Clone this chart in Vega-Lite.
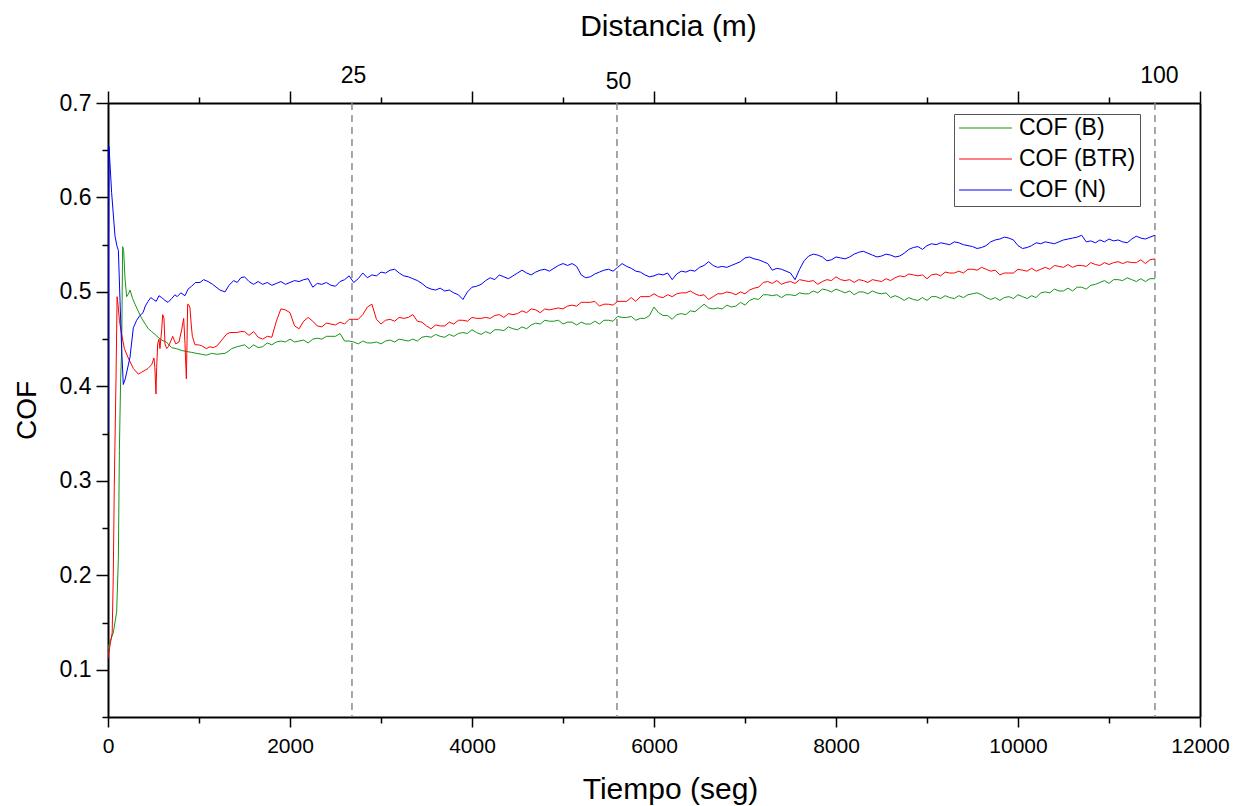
{
"$schema": "https://vega.github.io/schema/vega-lite/v6.json",
"width": 1092, "height": 614,
"autosize": "none",
"padding": {"left": 108, "top": 103, "right": 45, "bottom": 89},
"background": "white",
"config": {
  "view": {"stroke": null},
  "font": "Liberation Sans",
  "axis": {"domain": true, "domainColor": "black", "domainWidth": 2, "grid": false, "tickColor": "black", "tickWidth": 1.5, "labelColor": "black", "labelFont": "Liberation Sans", "titleFont": "Liberation Sans", "titleFontWeight": "normal", "titleColor": "black", "labelOverlap": false, "labelFlush": false, "labelBound": false},
  "legend": {"labelFont": "Liberation Sans"}
},
"datasets": {
"B": [{"t":0,"c":0.12},{"t":11,"c":0.127},{"t":58,"c":0.139},{"t":95,"c":0.161},{"t":114,"c":0.218},{"t":125,"c":0.332},{"t":139,"c":0.408},{"t":150,"c":0.438},{"t":161,"c":0.548},{"t":172,"c":0.544},{"t":187,"c":0.514},{"t":205,"c":0.495},{"t":225,"c":0.498},{"t":242,"c":0.502},{"t":270,"c":0.493},{"t":297,"c":0.487},{"t":330,"c":0.48},{"t":370,"c":0.472},{"t":410,"c":0.466},{"t":443,"c":0.461},{"t":480,"c":0.458},{"t":516,"c":0.455},{"t":550,"c":0.452},{"t":590,"c":0.449},{"t":640,"c":0.447},{"t":700,"c":0.441},{"t":750,"c":0.44},{"t":810,"c":0.438},{"t":860,"c":0.437},{"t":919,"c":0.436},{"t":970,"c":0.435},{"t":1029,"c":0.434},{"t":1080,"c":0.433},{"t":1139,"c":0.435},{"t":1200,"c":0.434},{"t":1286,"c":0.435},{"t":1320,"c":0.437},{"t":1359,"c":0.44},{"t":1420,"c":0.442},{"t":1460,"c":0.443},
{"t":1500,"c":0.444},{"t":1550,"c":0.440},{"t":1600,"c":0.444},{"t":1650,"c":0.441},{"t":1700,"c":0.442},{"t":1750,"c":0.446},{"t":1800,"c":0.444},{"t":1850,"c":0.447},{"t":1900,"c":0.448},{"t":1950,"c":0.447},{"t":2000,"c":0.450},{"t":2050,"c":0.447},{"t":2100,"c":0.448},{"t":2150,"c":0.449},{"t":2200,"c":0.446},{"t":2250,"c":0.450},{"t":2300,"c":0.451},{"t":2350,"c":0.450},{"t":2400,"c":0.453},{"t":2450,"c":0.453},{"t":2500,"c":0.453},{"t":2550,"c":0.456},{"t":2600,"c":0.448},{"t":2650,"c":0.448},{"t":2700,"c":0.447},{"t":2750,"c":0.445},{"t":2800,"c":0.448},{"t":2850,"c":0.446},{"t":2900,"c":0.446},{"t":2950,"c":0.447},{"t":3000,"c":0.445},{"t":3050,"c":0.448},{"t":3100,"c":0.449},{"t":3150,"c":0.447},{"t":3200,"c":0.450},{"t":3250,"c":0.449},{"t":3300,"c":0.448},{"t":3350,"c":0.450},{"t":3400,"c":0.448},{"t":3450,"c":0.452},{"t":3500,"c":0.453},{"t":3550,"c":0.452},{"t":3600,"c":0.455},{"t":3650,"c":0.453},{"t":3700,"c":0.452},{"t":3750,"c":0.455},{"t":3800,"c":0.453},{"t":3850,"c":0.456},{"t":3900,"c":0.457},{"t":3950,"c":0.456},{"t":4000,"c":0.460},{"t":4050,"c":0.457},{"t":4100,"c":0.455},{"t":4150,"c":0.458},{"t":4200,"c":0.456},{"t":4250,"c":0.460},{"t":4300,"c":0.460},{"t":4350,"c":0.459},{"t":4400,"c":0.463},{"t":4450,"c":0.461},{"t":4500,"c":0.460},{"t":4550,"c":0.463},{"t":4600,"c":0.461},{"t":4650,"c":0.465},{"t":4700,"c":0.467},{"t":4750,"c":0.466},{"t":4800,"c":0.470},{"t":4850,"c":0.469},{"t":4900,"c":0.469},{"t":4950,"c":0.470},{"t":5000,"c":0.466},{"t":5050,"c":0.468},{"t":5100,"c":0.468},{"t":5150,"c":0.465},{"t":5200,"c":0.468},{"t":5250,"c":0.466},{"t":5300,"c":0.466},{"t":5350,"c":0.469},{"t":5400,"c":0.466},{"t":5450,"c":0.470},{"t":5500,"c":0.470},{"t":5550,"c":0.469},{"t":5600,"c":0.474},{"t":5650,"c":0.473},{"t":5700,"c":0.473},{"t":5750,"c":0.474},{"t":5800,"c":0.470},{"t":5850,"c":0.472},{"t":5900,"c":0.472},{"t":5950,"c":0.475},{"t":6000,"c":0.484},{"t":6050,"c":0.478},{"t":6100,"c":0.475},{"t":6150,"c":0.475},{"t":6200,"c":0.471},{"t":6250,"c":0.476},{"t":6300,"c":0.477},{"t":6350,"c":0.476},{"t":6400,"c":0.480},{"t":6450,"c":0.479},{"t":6500,"c":0.483},{"t":6550,"c":0.487},{"t":6600,"c":0.483},{"t":6650,"c":0.482},{"t":6700,"c":0.483},{"t":6750,"c":0.482},{"t":6800,"c":0.486},{"t":6850,"c":0.484},{"t":6900,"c":0.485},{"t":6950,"c":0.489},{"t":7000,"c":0.486},{"t":7050,"c":0.491},{"t":7100,"c":0.493},{"t":7150,"c":0.492},{"t":7200,"c":0.497},{"t":7250,"c":0.497},{"t":7300,"c":0.496},{"t":7350,"c":0.497},{"t":7400,"c":0.494},{"t":7450,"c":0.497},{"t":7500,"c":0.497},{"t":7550,"c":0.496},{"t":7600,"c":0.499},{"t":7650,"c":0.498},{"t":7700,"c":0.498},{"t":7750,"c":0.501},{"t":7800,"c":0.499},{"t":7850,"c":0.503},{"t":7900,"c":0.502},{"t":7950,"c":0.500},{"t":8000,"c":0.503},{"t":8050,"c":0.501},{"t":8100,"c":0.499},{"t":8150,"c":0.501},{"t":8200,"c":0.497},{"t":8250,"c":0.500},{"t":8300,"c":0.500},{"t":8350,"c":0.498},{"t":8400,"c":0.501},{"t":8450,"c":0.499},{"t":8500,"c":0.498},{"t":8550,"c":0.499},{"t":8600,"c":0.494},{"t":8650,"c":0.496},{"t":8700,"c":0.494},{"t":8750,"c":0.491},{"t":8800,"c":0.494},{"t":8850,"c":0.492},{"t":8900,"c":0.491},{"t":8950,"c":0.494},{"t":9000,"c":0.491},{"t":9050,"c":0.495},{"t":9100,"c":0.495},{"t":9150,"c":0.493},{"t":9200,"c":0.496},{"t":9250,"c":0.494},{"t":9300,"c":0.493},{"t":9350,"c":0.496},{"t":9400,"c":0.494},{"t":9450,"c":0.497},{"t":9500,"c":0.498},{"t":9550,"c":0.499},{"t":9600,"c":0.497},{"t":9650,"c":0.494},{"t":9700,"c":0.492},{"t":9750,"c":0.494},{"t":9800,"c":0.491},{"t":9850,"c":0.494},{"t":9900,"c":0.495},{"t":9950,"c":0.493},{"t":10000,"c":0.497},{"t":10050,"c":0.495},{"t":10100,"c":0.493},{"t":10150,"c":0.496},{"t":10200,"c":0.494},{"t":10250,"c":0.499},{"t":10300,"c":0.500},{"t":10350,"c":0.499},{"t":10400,"c":0.503},{"t":10450,"c":0.501},{"t":10500,"c":0.501},{"t":10550,"c":0.504},{"t":10600,"c":0.501},{"t":10650,"c":0.505},{"t":10700,"c":0.505},{"t":10750,"c":0.503},{"t":10800,"c":0.507},{"t":10850,"c":0.508},{"t":10900,"c":0.510},{"t":10950,"c":0.512},{"t":11000,"c":0.509},{"t":11050,"c":0.513},{"t":11100,"c":0.513},{"t":11150,"c":0.512},{"t":11200,"c":0.515},{"t":11250,"c":0.513},{"t":11300,"c":0.511},{"t":11350,"c":0.514},{"t":11400,"c":0.511},{"t":11450,"c":0.514},{"t":11505,"c":0.514}],
"BTR": [{"t":0,"c":0.112},{"t":4,"c":0.116},{"t":30,"c":0.13},{"t":46,"c":0.139},{"t":58,"c":0.199},{"t":69,"c":0.294},{"t":88,"c":0.408},{"t":100,"c":0.495},{"t":110,"c":0.487},{"t":125,"c":0.47},{"t":150,"c":0.455},{"t":180,"c":0.44},{"t":223,"c":0.43},{"t":278,"c":0.419},{"t":333,"c":0.413},{"t":370,"c":0.415},{"t":407,"c":0.417},{"t":440,"c":0.419},{"t":480,"c":0.423},{"t":505,"c":0.43},{"t":515,"c":0.42},{"t":527,"c":0.392},{"t":535,"c":0.42},{"t":546,"c":0.445},{"t":560,"c":0.45},{"t":571,"c":0.44},{"t":590,"c":0.46},{"t":601,"c":0.476},{"t":615,"c":0.472},{"t":626,"c":0.445},{"t":645,"c":0.44},{"t":663,"c":0.442},{"t":690,"c":0.448},{"t":711,"c":0.453},{"t":744,"c":0.445},{"t":780,"c":0.447},{"t":810,"c":0.46},{"t":832,"c":0.472},{"t":846,"c":0.445},{"t":861,"c":0.408},{"t":869,"c":0.45},{"t":875,"c":0.487},{"t":890,"c":0.486},{"t":901,"c":0.483},{"t":915,"c":0.465},{"t":927,"c":0.453},{"t":956,"c":0.444},{"t":992,"c":0.444},{"t":1030,"c":0.443},{"t":1080,"c":0.44},{"t":1120,"c":0.442},{"t":1157,"c":0.441},{"t":1200,"c":0.443},{"t":1250,"c":0.449},{"t":1300,"c":0.455},{"t":1340,"c":0.457},{"t":1414,"c":0.457},{"t":1460,"c":0.458},
{"t":1500,"c":0.458},{"t":1550,"c":0.454},{"t":1600,"c":0.458},{"t":1650,"c":0.452},{"t":1700,"c":0.450},{"t":1750,"c":0.453},{"t":1800,"c":0.452},{"t":1850,"c":0.469},{"t":1900,"c":0.482},{"t":1950,"c":0.481},{"t":2000,"c":0.478},{"t":2050,"c":0.464},{"t":2100,"c":0.461},{"t":2150,"c":0.469},{"t":2200,"c":0.473},{"t":2250,"c":0.469},{"t":2300,"c":0.464},{"t":2350,"c":0.463},{"t":2400,"c":0.467},{"t":2450,"c":0.466},{"t":2500,"c":0.465},{"t":2550,"c":0.468},{"t":2600,"c":0.466},{"t":2650,"c":0.471},{"t":2700,"c":0.471},{"t":2750,"c":0.471},{"t":2800,"c":0.476},{"t":2850,"c":0.484},{"t":2900,"c":0.487},{"t":2950,"c":0.471},{"t":3000,"c":0.466},{"t":3050,"c":0.470},{"t":3100,"c":0.471},{"t":3150,"c":0.469},{"t":3200,"c":0.473},{"t":3250,"c":0.472},{"t":3300,"c":0.473},{"t":3350,"c":0.476},{"t":3400,"c":0.469},{"t":3450,"c":0.468},{"t":3500,"c":0.464},{"t":3550,"c":0.461},{"t":3600,"c":0.465},{"t":3650,"c":0.464},{"t":3700,"c":0.464},{"t":3750,"c":0.468},{"t":3800,"c":0.466},{"t":3850,"c":0.470},{"t":3900,"c":0.470},{"t":3950,"c":0.469},{"t":4000,"c":0.473},{"t":4050,"c":0.472},{"t":4100,"c":0.472},{"t":4150,"c":0.473},{"t":4200,"c":0.472},{"t":4250,"c":0.475},{"t":4300,"c":0.476},{"t":4350,"c":0.473},{"t":4400,"c":0.477},{"t":4450,"c":0.476},{"t":4500,"c":0.477},{"t":4550,"c":0.480},{"t":4600,"c":0.478},{"t":4650,"c":0.482},{"t":4700,"c":0.481},{"t":4750,"c":0.478},{"t":4800,"c":0.482},{"t":4850,"c":0.481},{"t":4900,"c":0.482},{"t":4950,"c":0.483},{"t":5000,"c":0.482},{"t":5050,"c":0.485},{"t":5100,"c":0.486},{"t":5150,"c":0.485},{"t":5200,"c":0.489},{"t":5250,"c":0.489},{"t":5300,"c":0.489},{"t":5350,"c":0.490},{"t":5400,"c":0.485},{"t":5450,"c":0.487},{"t":5500,"c":0.487},{"t":5550,"c":0.486},{"t":5600,"c":0.490},{"t":5650,"c":0.490},{"t":5700,"c":0.490},{"t":5750,"c":0.494},{"t":5800,"c":0.490},{"t":5850,"c":0.495},{"t":5900,"c":0.495},{"t":5950,"c":0.495},{"t":6000,"c":0.498},{"t":6050,"c":0.495},{"t":6100,"c":0.494},{"t":6150,"c":0.497},{"t":6200,"c":0.495},{"t":6250,"c":0.498},{"t":6300,"c":0.499},{"t":6350,"c":0.499},{"t":6400,"c":0.501},{"t":6450,"c":0.498},{"t":6500,"c":0.496},{"t":6550,"c":0.497},{"t":6600,"c":0.492},{"t":6650,"c":0.495},{"t":6700,"c":0.498},{"t":6750,"c":0.498},{"t":6800,"c":0.500},{"t":6850,"c":0.499},{"t":6900,"c":0.497},{"t":6950,"c":0.500},{"t":7000,"c":0.498},{"t":7050,"c":0.502},{"t":7100,"c":0.504},{"t":7150,"c":0.505},{"t":7200,"c":0.510},{"t":7250,"c":0.511},{"t":7300,"c":0.509},{"t":7350,"c":0.512},{"t":7400,"c":0.508},{"t":7450,"c":0.510},{"t":7500,"c":0.511},{"t":7550,"c":0.509},{"t":7600,"c":0.513},{"t":7650,"c":0.512},{"t":7700,"c":0.511},{"t":7750,"c":0.512},{"t":7800,"c":0.508},{"t":7850,"c":0.511},{"t":7900,"c":0.513},{"t":7950,"c":0.512},{"t":8000,"c":0.516},{"t":8050,"c":0.513},{"t":8100,"c":0.512},{"t":8150,"c":0.513},{"t":8200,"c":0.510},{"t":8250,"c":0.513},{"t":8300,"c":0.512},{"t":8350,"c":0.510},{"t":8400,"c":0.513},{"t":8450,"c":0.512},{"t":8500,"c":0.511},{"t":8550,"c":0.514},{"t":8600,"c":0.512},{"t":8650,"c":0.515},{"t":8700,"c":0.517},{"t":8750,"c":0.516},{"t":8800,"c":0.519},{"t":8850,"c":0.518},{"t":8900,"c":0.517},{"t":8950,"c":0.518},{"t":9000,"c":0.514},{"t":9050,"c":0.518},{"t":9100,"c":0.519},{"t":9150,"c":0.517},{"t":9200,"c":0.521},{"t":9250,"c":0.520},{"t":9300,"c":0.520},{"t":9350,"c":0.522},{"t":9400,"c":0.520},{"t":9450,"c":0.524},{"t":9500,"c":0.524},{"t":9550,"c":0.523},{"t":9600,"c":0.526},{"t":9650,"c":0.524},{"t":9700,"c":0.522},{"t":9750,"c":0.523},{"t":9800,"c":0.518},{"t":9850,"c":0.520},{"t":9900,"c":0.520},{"t":9950,"c":0.520},{"t":10000,"c":0.524},{"t":10050,"c":0.523},{"t":10100,"c":0.522},{"t":10150,"c":0.525},{"t":10200,"c":0.522},{"t":10250,"c":0.524},{"t":10300,"c":0.526},{"t":10350,"c":0.524},{"t":10400,"c":0.528},{"t":10450,"c":0.527},{"t":10500,"c":0.526},{"t":10550,"c":0.529},{"t":10600,"c":0.526},{"t":10650,"c":0.528},{"t":10700,"c":0.528},{"t":10750,"c":0.527},{"t":10800,"c":0.531},{"t":10850,"c":0.529},{"t":10900,"c":0.528},{"t":10950,"c":0.531},{"t":11000,"c":0.529},{"t":11050,"c":0.531},{"t":11100,"c":0.532},{"t":11150,"c":0.530},{"t":11200,"c":0.532},{"t":11250,"c":0.531},{"t":11300,"c":0.531},{"t":11350,"c":0.534},{"t":11400,"c":0.530},{"t":11450,"c":0.534},{"t":11505,"c":0.535}],
"N": [{"t":0,"c":0.352},{"t":6,"c":0.55},{"t":11,"c":0.654},{"t":40,"c":0.605},{"t":77,"c":0.559},{"t":100,"c":0.548},{"t":114,"c":0.544},{"t":132,"c":0.491},{"t":150,"c":0.44},{"t":168,"c":0.402},{"t":190,"c":0.408},{"t":242,"c":0.431},{"t":278,"c":0.462},{"t":315,"c":0.47},{"t":350,"c":0.475},{"t":385,"c":0.478},{"t":410,"c":0.485},{"t":440,"c":0.49},{"t":470,"c":0.494},{"t":498,"c":0.492},{"t":530,"c":0.49},{"t":560,"c":0.496},{"t":590,"c":0.494},{"t":626,"c":0.491},{"t":660,"c":0.489},{"t":700,"c":0.493},{"t":736,"c":0.497},{"t":760,"c":0.495},{"t":800,"c":0.499},{"t":846,"c":0.496},{"t":880,"c":0.503},{"t":919,"c":0.506},{"t":960,"c":0.51},{"t":1011,"c":0.51},{"t":1050,"c":0.513},{"t":1100,"c":0.511},{"t":1150,"c":0.508},{"t":1176,"c":0.506},{"t":1230,"c":0.502},{"t":1286,"c":0.5},{"t":1330,"c":0.507},{"t":1380,"c":0.512},{"t":1420,"c":0.51},{"t":1460,"c":0.515},
{"t":1500,"c":0.516},{"t":1550,"c":0.511},{"t":1600,"c":0.508},{"t":1650,"c":0.511},{"t":1700,"c":0.508},{"t":1750,"c":0.510},{"t":1800,"c":0.507},{"t":1850,"c":0.509},{"t":1900,"c":0.511},{"t":1950,"c":0.508},{"t":2000,"c":0.510},{"t":2050,"c":0.512},{"t":2100,"c":0.511},{"t":2150,"c":0.513},{"t":2200,"c":0.514},{"t":2250,"c":0.505},{"t":2300,"c":0.509},{"t":2350,"c":0.508},{"t":2400,"c":0.510},{"t":2450,"c":0.507},{"t":2500,"c":0.506},{"t":2550,"c":0.511},{"t":2600,"c":0.513},{"t":2650,"c":0.517},{"t":2700,"c":0.510},{"t":2750,"c":0.514},{"t":2800,"c":0.520},{"t":2850,"c":0.515},{"t":2900,"c":0.518},{"t":2950,"c":0.517},{"t":3000,"c":0.521},{"t":3050,"c":0.520},{"t":3100,"c":0.523},{"t":3150,"c":0.524},{"t":3200,"c":0.520},{"t":3250,"c":0.517},{"t":3300,"c":0.516},{"t":3350,"c":0.514},{"t":3400,"c":0.512},{"t":3450,"c":0.509},{"t":3500,"c":0.505},{"t":3550,"c":0.503},{"t":3600,"c":0.502},{"t":3650,"c":0.504},{"t":3700,"c":0.501},{"t":3750,"c":0.502},{"t":3800,"c":0.499},{"t":3850,"c":0.497},{"t":3900,"c":0.492},{"t":3950,"c":0.500},{"t":4000,"c":0.505},{"t":4050,"c":0.506},{"t":4100,"c":0.508},{"t":4150,"c":0.512},{"t":4200,"c":0.515},{"t":4250,"c":0.513},{"t":4300,"c":0.518},{"t":4350,"c":0.516},{"t":4400,"c":0.514},{"t":4450,"c":0.517},{"t":4500,"c":0.520},{"t":4550,"c":0.523},{"t":4600,"c":0.520},{"t":4650,"c":0.518},{"t":4700,"c":0.521},{"t":4750,"c":0.523},{"t":4800,"c":0.524},{"t":4850,"c":0.522},{"t":4900,"c":0.525},{"t":4950,"c":0.528},{"t":5000,"c":0.530},{"t":5050,"c":0.528},{"t":5100,"c":0.530},{"t":5150,"c":0.527},{"t":5200,"c":0.518},{"t":5250,"c":0.515},{"t":5300,"c":0.516},{"t":5350,"c":0.519},{"t":5400,"c":0.521},{"t":5450,"c":0.523},{"t":5500,"c":0.524},{"t":5550,"c":0.522},{"t":5600,"c":0.526},{"t":5650,"c":0.530},{"t":5700,"c":0.527},{"t":5750,"c":0.525},{"t":5800,"c":0.522},{"t":5850,"c":0.521},{"t":5900,"c":0.518},{"t":5950,"c":0.516},{"t":6000,"c":0.517},{"t":6050,"c":0.519},{"t":6100,"c":0.518},{"t":6150,"c":0.520},{"t":6200,"c":0.513},{"t":6250,"c":0.519},{"t":6300,"c":0.522},{"t":6350,"c":0.521},{"t":6400,"c":0.523},{"t":6450,"c":0.522},{"t":6500,"c":0.526},{"t":6550,"c":0.528},{"t":6600,"c":0.532},{"t":6650,"c":0.528},{"t":6700,"c":0.526},{"t":6750,"c":0.527},{"t":6800,"c":0.526},{"t":6850,"c":0.528},{"t":6900,"c":0.530},{"t":6950,"c":0.532},{"t":7000,"c":0.536},{"t":7050,"c":0.537},{"t":7100,"c":0.535},{"t":7150,"c":0.534},{"t":7200,"c":0.532},{"t":7250,"c":0.530},{"t":7300,"c":0.523},{"t":7350,"c":0.525},{"t":7400,"c":0.524},{"t":7450,"c":0.522},{"t":7500,"c":0.520},{"t":7550,"c":0.513},{"t":7600,"c":0.524},{"t":7650,"c":0.533},{"t":7700,"c":0.538},{"t":7750,"c":0.540},{"t":7800,"c":0.539},{"t":7850,"c":0.537},{"t":7900,"c":0.533},{"t":7950,"c":0.534},{"t":8000,"c":0.537},{"t":8050,"c":0.536},{"t":8100,"c":0.535},{"t":8150,"c":0.537},{"t":8200,"c":0.540},{"t":8250,"c":0.542},{"t":8300,"c":0.543},{"t":8350,"c":0.541},{"t":8400,"c":0.539},{"t":8450,"c":0.537},{"t":8500,"c":0.538},{"t":8550,"c":0.540},{"t":8600,"c":0.539},{"t":8650,"c":0.537},{"t":8700,"c":0.538},{"t":8750,"c":0.541},{"t":8800,"c":0.545},{"t":8850,"c":0.547},{"t":8900,"c":0.548},{"t":8950,"c":0.545},{"t":9000,"c":0.549},{"t":9050,"c":0.551},{"t":9100,"c":0.550},{"t":9150,"c":0.552},{"t":9200,"c":0.551},{"t":9250,"c":0.550},{"t":9300,"c":0.553},{"t":9350,"c":0.552},{"t":9400,"c":0.550},{"t":9450,"c":0.549},{"t":9500,"c":0.548},{"t":9550,"c":0.546},{"t":9600,"c":0.547},{"t":9650,"c":0.549},{"t":9700,"c":0.553},{"t":9750,"c":0.555},{"t":9800,"c":0.556},{"t":9850,"c":0.558},{"t":9900,"c":0.557},{"t":9950,"c":0.555},{"t":10000,"c":0.549},{"t":10050,"c":0.546},{"t":10100,"c":0.547},{"t":10150,"c":0.549},{"t":10200,"c":0.552},{"t":10250,"c":0.551},{"t":10300,"c":0.553},{"t":10350,"c":0.552},{"t":10400,"c":0.551},{"t":10450,"c":0.553},{"t":10500,"c":0.555},{"t":10550,"c":0.556},{"t":10600,"c":0.557},{"t":10650,"c":0.558},{"t":10700,"c":0.560},{"t":10750,"c":0.553},{"t":10800,"c":0.554},{"t":10850,"c":0.552},{"t":10900,"c":0.555},{"t":10950,"c":0.553},{"t":11000,"c":0.556},{"t":11050,"c":0.554},{"t":11100,"c":0.555},{"t":11150,"c":0.553},{"t":11200,"c":0.552},{"t":11250,"c":0.556},{"t":11300,"c":0.559},{"t":11350,"c":0.557},{"t":11400,"c":0.556},{"t":11450,"c":0.558},{"t":11505,"c":0.560}],
"marks": [{"t":2681},{"t":5593},{"t":11505}]
},
"layer": [
  {
    "data": {"name": "marks"},
    "mark": {"type": "rule", "stroke": "#8a8a8a", "strokeDash": [7, 5], "strokeWidth": 1.5},
    "encoding": {
      "x": {"field": "t", "type": "quantitative", "scale": {"domain": [0, 12000], "nice": false, "zero": false}, "axis": null}
    }
  },
  {
    "data": {"name": "B"},
    "mark": {"type": "line", "strokeWidth": 1, "clip": true},
    "encoding": {
      "x": {"field": "t", "type": "quantitative", "scale": {"domain": [0, 12000], "nice": false, "zero": false},
        "axis": {"orient": "bottom", "values": [0,1000,2000,3000,4000,5000,6000,7000,8000,9000,10000,11000,12000],
          "tickSize": {"condition": {"test": "datum.value % 2000 === 0", "value": 10}, "value": 6},
          "labelExpr": "datum.value % 2000 === 0 ? format(datum.value, 'd') : ''",
          "labelFontSize": 21, "labelPadding": 8,
          "title": "Tiempo (seg)", "titleFontSize": 30, "titlePadding": 18, "titleX": 562}},
      "y": {"field": "c", "type": "quantitative", "scale": {"domain": [0.05, 0.7], "nice": false, "zero": false},
        "axis": {"orient": "left", "values": [0.05,0.1,0.15,0.2,0.25,0.3,0.35,0.4,0.45,0.5,0.55,0.6,0.65,0.7],
          "tickSize": {"condition": {"test": "round(datum.value*100) % 10 === 0", "value": 12}, "value": 6},
          "labelExpr": "round(datum.value*100) % 10 === 0 ? format(datum.value, '.1f') : ''",
          "labelFontSize": 23, "labelPadding": 5,
          "title": "COF", "titleFontSize": 28, "titlePadding": 18}},
      "color": {"datum": "COF (B)", "type": "nominal",
        "scale": {"domain": ["COF (B)", "COF (BTR)", "COF (N)"], "range": ["#189418", "#ff0000", "#0000ff"]},
        "legend": {"orient": "none", "legendX": 846, "legendY": 11, "title": null, "symbolType": "stroke", "symbolSize": 2800, "symbolStrokeWidth": 1.2, "clipHeight": 20, "labelFontSize": 23, "labelOffset": 6, "rowPadding": 8, "padding": 4, "strokeColor": "#555555", "fillColor": "white", "labelColor": "black"}}
    }
  },
  {
    "data": {"name": "BTR"},
    "mark": {"type": "line", "strokeWidth": 1, "clip": true},
    "encoding": {
      "x": {"field": "t", "type": "quantitative", "scale": {"domain": [0, 12000], "nice": false, "zero": false},
        "axis": {"orient": "top", "values": [0,1000,2000,3000,4000,5000,6000,7000,8000,9000,10000,11000,12000],
          "tickSize": {"condition": {"test": "datum.value % 2000 === 0", "value": 12}, "value": 6},
          "labels": false, "title": null}},
      "y": {"field": "c", "type": "quantitative", "scale": {"domain": [0.05, 0.7], "nice": false, "zero": false},
        "axis": {"orient": "right", "ticks": false, "labels": false, "title": null}},
      "color": {"datum": "COF (BTR)", "type": "nominal"}
    }
  },
  {
    "data": {"name": "N"},
    "mark": {"type": "line", "strokeWidth": 1, "clip": true},
    "encoding": {
      "x": {"field": "t", "type": "quantitative", "scale": {"domain": [0, 12000], "nice": false, "zero": false},
        "axis": {"orient": "top", "values": [2681, 5593, 11505], "ticks": false, "domain": false,
          "labelExpr": "datum.value < 3000 ? '25' : (datum.value < 6000 ? '50' : '100')",
          "labelFontSize": 23,
          "labelOffset": {"condition": {"test": "datum.value > 10000", "value": 4}, "value": 1},
          "labelPadding": {"condition": {"test": "datum.value === 5593", "value": 10}, "value": 16},
          "title": "Distancia (m)", "titleFontSize": 30, "titlePadding": 23, "titleX": 560}},
      "y": {"field": "c", "type": "quantitative", "scale": {"domain": [0.05, 0.7], "nice": false, "zero": false}, "axis": null},
      "color": {"datum": "COF (N)", "type": "nominal"}
    }
  }
],
"resolve": {"axis": {"x": "independent", "y": "independent"}}
}
